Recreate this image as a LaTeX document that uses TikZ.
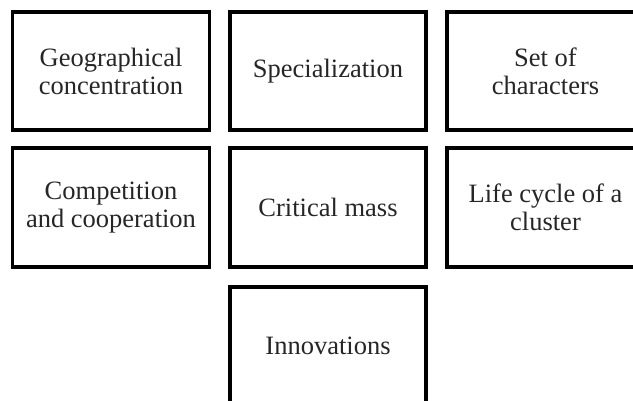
\documentclass[tikz,border=0pt]{standalone}
\usepackage{fontspec}
\setmainfont{Liberation Serif}
\begin{document}
\begin{tikzpicture}[x=1pt,y=-1pt,
  cellbox/.style={draw=black, line width=3.5pt, rectangle, minimum width=197pt, minimum height=118pt, inner sep=0pt, align=center, font=\fontsize{26.5}{28}\selectfont, text=black!85}]
\useasboundingbox (0,0) rectangle (633,400);
\clip (0,0) rectangle (633,400);
\node[cellbox] (geo) at (111,71) {Geographical\\concentration};
\node[cellbox, minimum width=196pt] (spec) at (328,71) {Specialization};
\node[cellbox] (set) at (545.5,71) {Set of\\characters};
\node[cellbox, minimum height=119pt] (comp) at (111,207.5) {Competition\\and cooperation};
\node[cellbox, minimum width=196pt, minimum height=119pt] (crit) at (328,207.5) {Critical mass};
\node[cellbox, minimum height=119pt] (life) at (545.5,207.5) {Life cycle of a\\cluster};
\node[cellbox, minimum width=196pt] (inno) at (328,346) {Innovations};
\end{tikzpicture}
\end{document}
